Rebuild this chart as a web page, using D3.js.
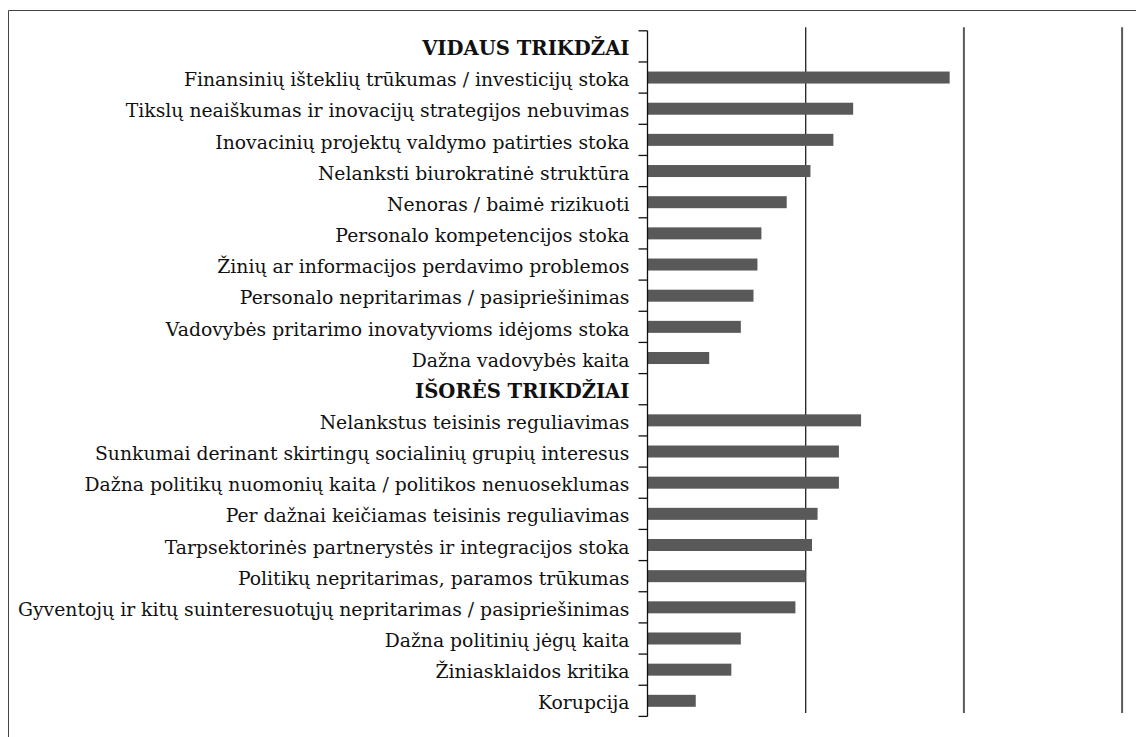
<!DOCTYPE html>
<html>
<head>
<meta charset="utf-8">
<script src="https://cdn.jsdelivr.net/npm/d3@7"></script>
<style>
  body { margin: 0; background: #fff; }
  .label { font-family: "DejaVu Serif", "Liberation Serif", serif; font-size: 18.8px; fill: #111; }
  .header { font-weight: bold; font-size: 19.6px; }
</style>
</head>
<body>
<div class="chart"></div>
<script>
var w = 1136;
var h = 737;
var paddingTop = 30.8;
var paddingBottom = 20.6;
var axisX = 647.5;
var unitPx = 158.2;

// categories top to bottom, null value = group header
var categories = [
  "VIDAUS TRIKDŽAI",
  "Finansinių išteklių trūkumas / investicijų stoka",
  "Tikslų neaiškumas ir inovacijų strategijos nebuvimas",
  "Inovacinių projektų valdymo patirties stoka",
  "Nelanksti biurokratinė struktūra",
  "Nenoras / baimė rizikuoti",
  "Personalo kompetencijos stoka",
  "Žinių ar informacijos perdavimo problemos",
  "Personalo nepritarimas / pasipriešinimas",
  "Vadovybės pritarimo inovatyvioms idėjoms stoka",
  "Dažna vadovybės kaita",
  "IŠORĖS TRIKDŽIAI",
  "Nelankstus teisinis reguliavimas",
  "Sunkumai derinant skirtingų socialinių grupių interesus",
  "Dažna politikų nuomonių kaita / politikos nenuoseklumas",
  "Per dažnai keičiamas teisinis reguliavimas",
  "Tarpsektorinės partnerystės ir integracijos stoka",
  "Politikų nepritarimas, paramos trūkumas",
  "Gyventojų ir kitų suinteresuotųjų nepritarimas / pasipriešinimas",
  "Dažna politinių jėgų kaita",
  "Žiniasklaidos kritika",
  "Korupcija"
];
var values = [
  null, 38.2, 26.0, 23.5, 20.6, 17.6, 14.4, 13.9, 13.4, 11.8, 7.8,
  null, 27.0, 24.2, 24.2, 21.5, 20.8, 20.0, 18.7, 11.8, 10.6, 6.1
];
var gridValues = [20, 40, 60];

var data = categories.map(function(c, i) { return {cat: c, val: values[i]}; });

var svg = d3.select(".chart").append("svg")
  .attr("width", w)
  .attr("height", h);

// frame (left and top edges)
svg.append("path")
  .attr("d", "M8.5," + h + "V10.5H" + w)
  .attr("fill", "none")
  .attr("stroke", "#444")
  .attr("stroke-width", 1);

var xScale = d3.scaleLinear()
  .domain([0, 60])
  .range([axisX, axisX + 3 * unitPx]);

var yScale = d3.scaleBand()
  .domain(categories)
  .range([paddingTop, h - paddingBottom])
  .paddingInner(0)
  .paddingOuter(0);

// gridlines
svg.selectAll("line.grid")
  .data(gridValues)
  .enter()
  .append("line")
  .attr("class", "grid")
  .attr("x1", function(d) { return xScale(d); })
  .attr("x2", function(d) { return xScale(d); })
  .attr("y1", paddingTop - 3.5)
  .attr("y2", h - paddingBottom - 3.5)
  .attr("stroke", function(d, i) { return i == 0 ? "#222" : "#5a5a5a"; })
  .attr("stroke-width", function(d, i) { return i == 0 ? 1.3 : 2; });

// bars
var barH = 12;
svg.selectAll("rect.bar")
  .data(data.filter(function(d) { return d.val !== null; }))
  .enter()
  .append("rect")
  .attr("class", "bar")
  .attr("x", xScale(0))
  .attr("y", function(d) { return yScale(d.cat) + yScale.bandwidth() / 2 - barH / 2; })
  .attr("width", function(d) { return xScale(d.val) - xScale(0); })
  .attr("height", barH)
  .attr("fill", "#595959");

// y axis: ticks between categories
var edges = categories.map(function(c) { return yScale(c); });
edges.push(h - paddingBottom);

var axis = svg.append("g").attr("class", "yAxis");
axis.append("line")
  .attr("x1", axisX).attr("x2", axisX)
  .attr("y1", paddingTop).attr("y2", h - paddingBottom)
  .attr("stroke", "#111")
  .attr("stroke-width", 1.3);
axis.selectAll("line.tick")
  .data(edges)
  .enter()
  .append("line")
  .attr("class", "tick")
  .attr("x1", axisX - 9).attr("x2", axisX)
  .attr("y1", function(d) { return d; })
  .attr("y2", function(d) { return d; })
  .attr("stroke", "#111")
  .attr("stroke-width", 1.3);

// labels
svg.selectAll("text.label")
  .data(data)
  .enter()
  .append("text")
  .attr("class", function(d) { return d.val === null ? "label header" : "label"; })
  .attr("text-anchor", "end")
  .attr("x", axisX - 18)
  .attr("y", function(d) { return yScale(d.cat) + yScale.bandwidth() / 2; })
  .attr("dy", "0.46em")
  .text(function(d) { return d.cat; });
</script>
</body>
</html>
